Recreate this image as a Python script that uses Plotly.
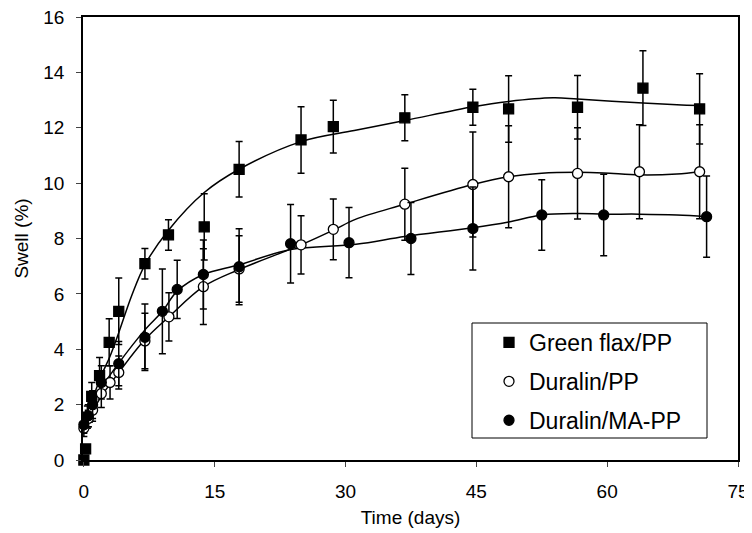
import plotly.graph_objects as go

# ---- data ----
gf_days = [0, 0.2, 0.4, 0.9, 1.8, 2.9, 4.0, 7.0, 9.7, 13.8, 17.8, 24.9, 28.6, 36.8, 44.6, 48.7, 56.6, 64.1, 70.6]
gf_vals = [0, 0.4, 1.55, 2.3, 3.05, 4.25, 5.37, 7.09, 8.13, 8.42, 10.5, 11.56, 12.04, 12.36, 12.74, 12.68, 12.74, 13.43, 12.68]
gf_err = [0, 0.15, 0.4, 0.5, 0.65, 0.85, 1.2, 0.55, 0.55, 1.2, 1.0, 1.2, 0.95, 0.83, 0.65, 1.2, 1.15, 1.35, 1.27]

dp_days = [0, 0.5, 1, 2, 3, 4, 7, 9.75, 13.7, 17.8, 24.9, 28.6, 36.8, 44.6, 48.7, 56.6, 63.7, 70.6]
dp_vals = [1.15, 1.5, 1.8, 2.4, 2.8, 3.16, 4.3, 5.17, 6.26, 6.9, 7.77, 8.33, 9.24, 9.95, 10.23, 10.35, 10.41, 10.41]
dp_err = [0.3, 0.3, 0.4, 0.5, 0.6, 0.6, 1.0, 0.87, 1.37, 1.2, 1.05, 1.1, 1.3, 1.9, 1.84, 1.65, 1.7, 1.7]

dm_days = [0, 0.5, 1, 2, 4, 7, 9.0, 10.7, 13.7, 17.8, 23.7, 30.4, 37.5, 44.6, 52.5, 59.6, 71.4]
dm_vals = [1.27, 1.6, 2.0, 2.8, 3.48, 4.43, 5.37, 6.16, 6.7, 6.98, 7.81, 7.85, 8.0, 8.36, 8.85, 8.85, 8.79]
dm_err = [0.3, 0.4, 0.5, 0.6, 0.8, 1.2, 1.53, 1.05, 1.25, 1.37, 1.42, 1.27, 1.3, 1.5, 1.27, 1.47, 1.47]

# smoothed trend curves
gf_curve_days = [0, 1, 2, 3, 4, 5.5, 7, 9.7, 13.8, 17.8, 24.9, 31, 36.8, 44.6, 48.7, 53.8, 56.6, 64.1, 68, 70.6]
gf_curve_vals = [1.3, 2.2, 3.05, 3.75, 4.6, 5.95, 7.05, 8.3, 9.66, 10.5, 11.5, 11.9, 12.26, 12.76, 12.95, 13.08, 13.04, 12.89, 12.83, 12.8]

dp_curve_days = [0, 1, 2, 4, 7, 9.75, 13.7, 17.8, 24.9, 28.6, 31.2, 36.8, 44.6, 48.7, 52.5, 56.6, 59.6, 63.7, 68, 70.6]
dp_curve_vals = [1.15, 1.75, 2.3, 3.16, 4.35, 5.17, 6.26, 6.88, 7.77, 8.3, 8.7, 9.24, 9.95, 10.23, 10.36, 10.39, 10.37, 10.3, 10.33, 10.41]

dm_curve_days = [0, 1, 2, 4, 7, 9, 10.7, 13.7, 17.8, 23.7, 31.2, 36.8, 44.6, 48.7, 52.5, 56.6, 59.6, 63.7, 68, 71.4]
dm_curve_vals = [1.3, 2.0, 2.6, 3.5, 4.7, 5.37, 6.1, 6.7, 7.05, 7.6, 7.79, 8.07, 8.39, 8.6, 8.85, 8.9, 8.88, 8.88, 8.85, 8.79]

x_ticks = [0, 15, 30, 45, 60, 75]
y_ticks = [0, 2, 4, 6, 8, 10, 12, 14, 16]

names = ["Green flax/PP", "Duralin/PP", "Duralin/MA-PP"]

FONT = "Arial, Liberation Sans, Helvetica, sans-serif"

# page body has an 8px default margin; the figure is sized to fit the window
OFF = 8
W, H = 752 - OFF, 533 - OFF
ML, MR, MT, MB = 83 - OFF, 14, 17 - OFF, 73
PW, PH = W - ML - MR, H - MT - MB


def px_x(x):  # window pixel -> paper fraction
    return (x - OFF - ML) / PW


def px_y(y):
    return (H - MB - (y - OFF)) / PH


fig = go.Figure()

for cd, cv in [(gf_curve_days, gf_curve_vals), (dp_curve_days, dp_curve_vals), (dm_curve_days, dm_curve_vals)]:
    fig.add_trace(go.Scatter(x=cd, y=cv, mode="lines", line=dict(color="black", width=1.5, shape="spline"),
                             showlegend=False, hoverinfo="skip"))

series = [
    (gf_days, gf_vals, gf_err, "square", "black", 10),
    (dp_days, dp_vals, dp_err, "circle", "white", 10),
    (dm_days, dm_vals, dm_err, "circle", "black", 10),
]
for i, (d, v, e, sym, fill, sz) in enumerate(series):
    fig.add_trace(go.Scatter(
        x=d, y=v, mode="markers", name=names[i], legendgroup=str(i),
        marker=dict(symbol=sym, color=fill, size=sz, line=dict(color="black", width=1.3)),
        error_y=dict(type="data", array=e, visible=True, color="black", thickness=1.5, width=3.5),
        cliponaxis=False,
    ))

fig.add_shape(type="rect", xref="paper", yref="paper",
              x0=px_x(472), x1=px_x(707), y0=px_y(438), y1=px_y(323),
              line=dict(color="black", width=1), fillcolor="white", layer="below")

fig.update_layout(
    width=W, height=H,
    margin=dict(l=ML, r=MR, t=MT, b=MB),
    paper_bgcolor="white", plot_bgcolor="white",
    font=dict(family=FONT, size=19, color="black"),
    legend=dict(x=px_x(489), y=px_y(321), xanchor="left", yanchor="top",
                bgcolor="rgba(0,0,0,0)", borderwidth=0, font=dict(size=23),
                traceorder="grouped", tracegroupgap=6),
    xaxis=dict(range=[-0.1, 75], tickvals=x_ticks, ticks="outside", ticklen=5, tickwidth=1,
               showline=True, linecolor="black", linewidth=1.5, mirror=True, automargin=False,
               showgrid=False, zeroline=False, ticklabelstandoff=8, ticklabeloverflow="allow",
               title=dict(text="Time (days)", font=dict(size=19), standoff=10)),
    yaxis=dict(range=[0, 16], tickvals=y_ticks, ticks="outside", ticklen=5, tickwidth=1,
               showline=True, linecolor="black", linewidth=1.5, mirror=True, automargin=False,
               showgrid=False, zeroline=False, ticklabelstandoff=8, ticklabeloverflow="allow",
               title=dict(text="Swell (%)", font=dict(size=19), standoff=10)),
)

fig.write_html("out.html")
